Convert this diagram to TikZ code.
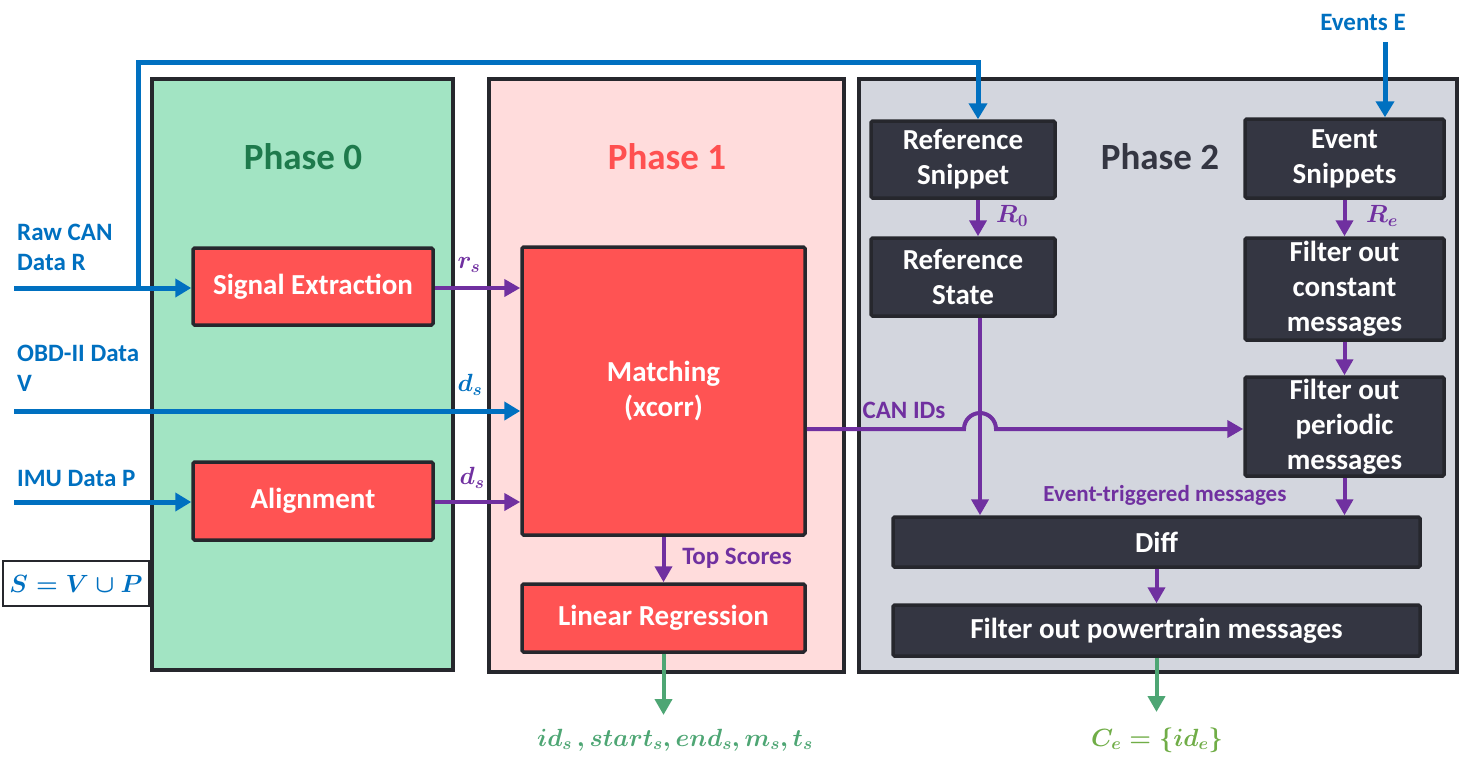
\documentclass[tikz,border=0pt]{standalone}
\usepackage{fontspec}
\setmainfont{Carlito}
\usepackage{amsmath}
\usepackage{amssymb}
\usetikzlibrary{arrows.meta}
\definecolor{boxline}{HTML}{26272D}
\definecolor{redfill}{HTML}{FF5353}
\definecolor{darkfill}{HTML}{343642}
\definecolor{greenfill}{HTML}{A2E4C3}
\definecolor{pinkfill}{HTML}{FFDCDC}
\definecolor{greyfill}{HTML}{D3D6DE}
\definecolor{titlegreen}{HTML}{1E7A4C}
\definecolor{titlered}{HTML}{FF5050}
\definecolor{titlegrey}{HTML}{343642}
\definecolor{wireblue}{HTML}{0070C0}
\definecolor{wirepurple}{HTML}{7030A0}
\definecolor{wiregreen}{HTML}{4EA674}
\definecolor{outgreen}{HTML}{70AD47}
\newcommand{\boxfont}{\fontsize{29}{35}\selectfont\bfseries}
\newcommand{\labfont}{\fontsize{25}{30}\selectfont\bfseries}
\newcommand{\symfont}{\fontsize{26}{30}\selectfont\boldmath}
\tikzset{
  phasebox/.style={draw=boxline, line width=3.5pt},
  phasetitle/.style={font=\fontsize{37}{42}\selectfont\bfseries},
  redbox/.style={draw=boxline, fill=redfill, line width=3.5pt, rounded corners=1.5pt,
    text=white, font=\boxfont, align=center, inner sep=0pt},
  darkbox/.style={redbox, fill=darkfill},
  bluewire/.style={draw=wireblue, line width=5pt, -{Triangle[length=16pt,width=18pt]}},
  purplewire/.style={draw=wirepurple, line width=4pt, -{Triangle[length=16pt,width=17pt]}},
  greenwire/.style={draw=wiregreen, line width=4pt, -{Triangle[length=16pt,width=17pt]}},
  bluelab/.style={text=wireblue, font=\labfont, align=left, inner sep=0pt},
  purplelab/.style={text=wirepurple, font=\labfont, inner sep=0pt},
}
\begin{document}
\begin{tikzpicture}[x=1pt,y=-1pt]
\useasboundingbox (0,0) rectangle (1462,764);

% phases
\draw[phasebox, fill=greenfill] (152,79) rectangle (453,670);
\draw[phasebox, fill=pinkfill] (489,79) rectangle (844,672);
\draw[phasebox, fill=greyfill] (859,79) rectangle (1457,672);
\node[phasetitle, text=titlegreen] (title0) at (303,157) {Phase 0};
\node[phasetitle, text=titlered] (title1) at (667,157) {Phase 1};
\node[phasetitle, text=titlegrey] (title2) at (1160,157) {Phase 2};

% phase 0
\node[redbox, minimum width=240pt, minimum height=77pt] (extract) at (313,286.5) {Signal Extraction};
\node[redbox, minimum width=240pt, minimum height=78pt] (align) at (313,501) {Alignment};

% phase 1
\node[redbox, minimum width=283pt, minimum height=288pt] (match) at (663.5,391) {Matching\\(xcorr)};
\node[redbox, minimum width=283pt, minimum height=68pt] (linreg) at (663.5,618) {Linear Regression};

% phase 2
\node[darkbox, minimum width=184pt, minimum height=77pt] (refsnip) at (963,159.5) {Reference\\Snippet};
\node[darkbox, minimum width=184pt, minimum height=78pt] (refstate) at (963,277) {Reference\\State};
\node[darkbox, minimum width=199pt, minimum height=79pt] (evsnip) at (1344.5,158.5) {Event\\Snippets};
\node[darkbox, minimum width=199pt, minimum height=102pt] (fconst) at (1344.5,289) {Filter out\\constant\\messages};
\node[darkbox, minimum width=199pt, minimum height=99pt] (fperiod) at (1344.5,426.5) {Filter out\\periodic\\messages};
\node[darkbox, minimum width=527pt, minimum height=50pt] (diff) at (1156.5,542) {Diff};
\node[darkbox, minimum width=527pt, minimum height=51pt] (fpower) at (1156.5,630.5) {Filter out powertrain messages};

% inputs
\node[bluelab, anchor=west] (rawlab) at (17,247) {Raw CAN\\Data R};
\node[bluelab, anchor=west] (obdlab) at (17,368) {OBD-II Data\\V};
\node[bluelab, anchor=west] (imulab) at (17,478) {IMU Data P};
\node[bluelab] (evlab) at (1363,22) {Events E};
\node[draw=boxline, line width=2.2pt, minimum width=146pt, minimum height=45pt, text=wireblue,
  font=\symfont, anchor=north west] (sdef) at (2,560) {$S = V \cup P$};

\coordinate (rawin) at (14,288);
\coordinate (tap) at (138,288);
\coordinate (top) at (978,62);
\coordinate (obdin) at (14,411);
\coordinate (imuin) at (14,502);
\coordinate (evin) at (1385,42);
\draw[bluewire] (rawin) -- (extract.west |- rawin);
\draw[bluewire] (tap) |- (top) -- (top |- refsnip.north);
\draw[bluewire] (obdin) -- (match.west |- obdin);
\draw[bluewire] (imuin) -- (align.west |- imuin);
\draw[bluewire] (evin) -- (evin |- evsnip.north);

% phase 0 to phase 1
\draw[purplewire] (extract.east |- rawin) -- (match.west |- rawin);
\draw[purplewire] (align.east |- imuin) -- (match.west |- imuin);
\node[text=wirepurple, font=\symfont] (rslab) at (469,265) {$r_s$};
\node[text=wireblue, font=\symfont] (dslab) at (470,385) {$d_s$};
\node[text=wirepurple, font=\symfont] (dslab2) at (472,478) {$d_s$};

% phase 1
\draw[purplewire] (match) -- (linreg);
\node[purplelab] (toplab) at (737,558) {Top Scores};
\coordinate (out1) at (663.5,715);
\draw[greenwire] (linreg) -- (out1);
\node[text=wiregreen, font=\symfont] (out1lab) at (675,740) {$id_s\,,start_s, end_s, m_s, t_s$};

% CAN IDs with a hop over the reference line
\coordinate (hop) at (980,429);
\draw[purplewire] (match.east |- hop) -- ([xshift=-16pt]hop) arc (180:0:16pt) -- (fperiod.west |- hop);
\node[purplelab] (canlab) at (904,410) {CAN IDs};

% phase 2
\draw[purplewire] (refsnip.south -| top) -- (refstate.north -| top);
\node[text=wirepurple, font=\symfont] (r0lab) at (1012,216) {$R_0$};
\draw[purplewire] (refstate.south -| hop) -- (diff.north -| hop);
\draw[purplewire] (evsnip) -- (fconst);
\node[text=wirepurple, font=\symfont] (relab) at (1382,216) {$R_e$};
\draw[purplewire] (fconst) -- (fperiod);
\draw[purplewire] (fperiod.south) -- (diff.north -| fperiod.south);
\node[purplelab, font=\fontsize{23}{26}\selectfont\bfseries] (evtlab) at (1165,495) {Event-triggered messages};
\draw[purplewire] (diff) -- (fpower);
\coordinate (out2) at (1156.5,712);
\draw[greenwire] (fpower) -- (out2);
\node[text=outgreen, font=\symfont] (out2lab) at (1157,740) {$C_e = \{id_e\}$};
\end{tikzpicture}
\end{document}
